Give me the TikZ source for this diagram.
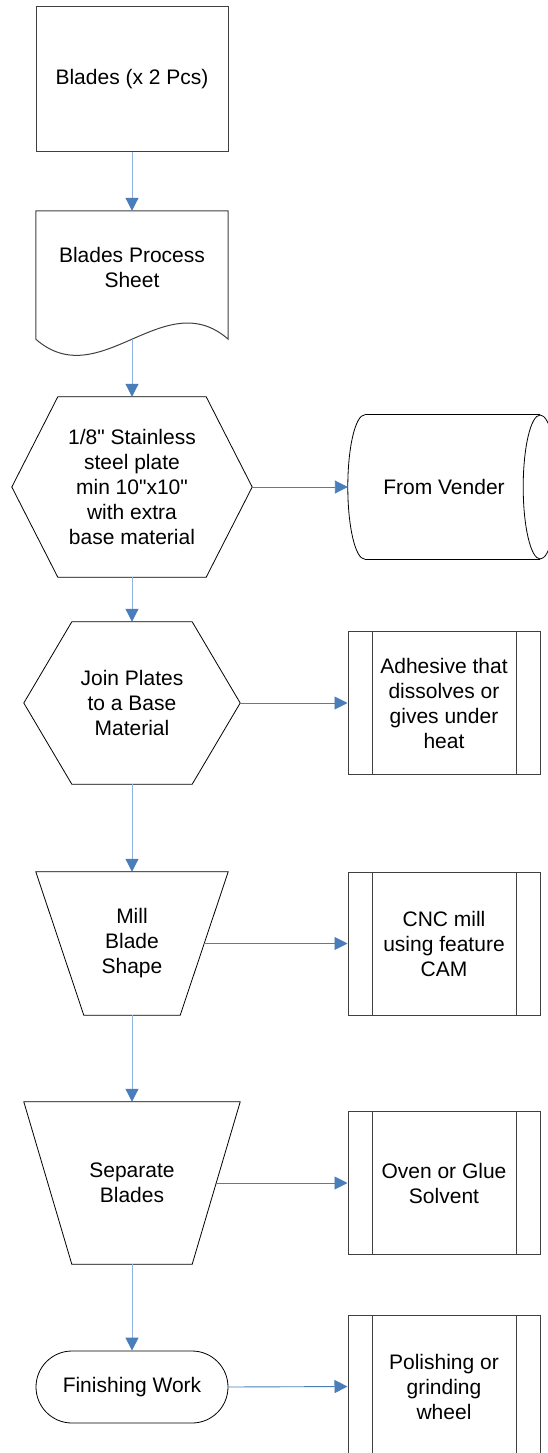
\documentclass[tikz,border=0pt]{standalone}
\usepackage{fontspec}
\setmainfont{Liberation Sans}
\usetikzlibrary{arrows.meta,calc}
\definecolor{arrowblue}{HTML}{4A7EBB}
\definecolor{vlineblue}{HTML}{8EB1DE}
\definecolor{boxgray}{HTML}{404040}
\begin{document}
\begin{tikzpicture}[x=1pt,y=-1pt,
  every node/.style={font=\fontsize{21}{25}\selectfont, align=center, inner sep=0pt},
  shp/.style={draw=black, line width=0.8pt},
  rectbox/.style={draw=boxgray, line width=1pt, rectangle},
  predef/.style={draw=boxgray, line width=1pt, rectangle, minimum width=192pt, minimum height=143pt,
    path picture={\draw[boxgray, line width=1pt]
      ([xshift=24pt]path picture bounding box.north west) -- ([xshift=24pt]path picture bounding box.south west)
      ([xshift=-24pt]path picture bounding box.north east) -- ([xshift=-24pt]path picture bounding box.south east);}},
  vconn/.style={draw=vlineblue, line width=1pt, -{Triangle[length=13pt,width=13pt,color=arrowblue]}},
  hconn/.style={draw=arrowblue, line width=0.9pt, -{Triangle[length=13pt,width=13pt,color=arrowblue]}}
]
\fill[white] (0,0) rectangle (548,1453);
\useasboundingbox (0,0) rectangle (548,1453);

% main column
\node[rectbox, minimum width=192pt, minimum height=144pt] (b1) at (132,79) {Blades (x 2 Pcs)};

\node[minimum width=192pt, minimum height=128pt,
  label={[yshift=7.5pt, align=center]center:Blades Process\\Sheet}] (doc) at (132,275) {};
\draw[rectbox] (doc.south west) -- (doc.north west) -- (doc.north east) -- (doc.south east)
  .. controls ($(doc.south east)+(-64,-56)$) and ($(doc.south west)+(64,56)$) .. (doc.south west);

\node[minimum width=240pt, minimum height=180pt] (h1) at (132,487)
  {1/8\textquotedbl{} Stainless\\steel plate\\min 10\textquotedbl{}x10\textquotedbl\\with extra\\base material};
\draw[shp] (h1.west) -- ([xshift=46pt]h1.north west) -- ([xshift=-46pt]h1.north east) -- (h1.east)
  -- ([xshift=-46pt]h1.south east) -- ([xshift=46pt]h1.south west) -- cycle;

\node[minimum width=216pt, minimum height=162pt] (h2) at (132,703) {Join Plates\\to a Base\\Material};
\draw[shp] (h2.west) -- ([xshift=48pt]h2.north west) -- ([xshift=-48pt]h2.north east) -- (h2.east)
  -- ([xshift=-48pt]h2.south east) -- ([xshift=48pt]h2.south west) -- cycle;

\node[minimum width=192pt, minimum height=143pt] (t1) at (132,943.5) {Mill\\Blade\\Shape};
\draw[shp] (t1.north west) -- (t1.north east) -- ([xshift=-48pt]t1.south east)
  -- ([xshift=48pt]t1.south west) -- cycle;
\coordinate (t1e) at (204,943.5);

\node[minimum width=216pt, minimum height=162pt] (t2) at (132,1183) {Separate\\Blades};
\draw[shp] (t2.north west) -- (t2.north east) -- ([xshift=-48pt]t2.south east)
  -- ([xshift=48pt]t2.south west) -- cycle;
\coordinate (t2e) at (216,1183);

\node[shp, rounded corners=36pt, minimum width=192pt, minimum height=72pt] (term) at (132,1387) {Finishing Work};

% right column
\node[minimum width=192pt, minimum height=144pt] (vend) at (444,487) {From Vender};
\draw[shp] ([xshift=17pt]vend.north west) -- (vend.north east);
\draw[shp] ([xshift=17pt]vend.south west) -- (vend.south east);
\draw[shp] ([xshift=17pt]vend.north west)
  .. controls ($(vend.north west)+(7.6,0)$) and ($(vend.west)+(0,-39.8)$) .. (vend.west)
  .. controls ($(vend.west)+(0,39.8)$) and ($(vend.south west)+(7.6,0)$) .. ([xshift=17pt]vend.south west);
\draw[shp] (vend.east) ellipse [x radius=17pt, y radius=72pt];

\node[predef] (p1) at (444,703) {Adhesive that\\dissolves or\\gives under\\heat};
\node[predef] (p2) at (444,943.5) {CNC mill\\using feature\\CAM};
\node[predef] (p3) at (444,1183) {Oven or Glue\\Solvent};
\node[predef] (p4) at (444,1386.5) {Polishing or\\grinding\\wheel};

% vertical connectors
\draw[vconn] (b1.south) -- (doc.north);
\draw[vconn] (doc.south) -- (h1.north);
\draw[vconn] (h1.south) -- (h2.north);
\draw[vconn] (h2.south) -- (t1.north);
\draw[vconn] (t1.south) -- (t2.north);
\draw[vconn] (t2.south) -- (term.north);

% horizontal connectors
\draw[hconn] (h1.east) -- (vend.west);
\draw[hconn] (h2.east) -- (p1.west);
\draw[hconn] (t1e) -- (p2.west);
\draw[hconn] (t2e) -- (p3.west);
\draw[hconn] (term.east) -- (p4.west);
\end{tikzpicture}
\end{document}
